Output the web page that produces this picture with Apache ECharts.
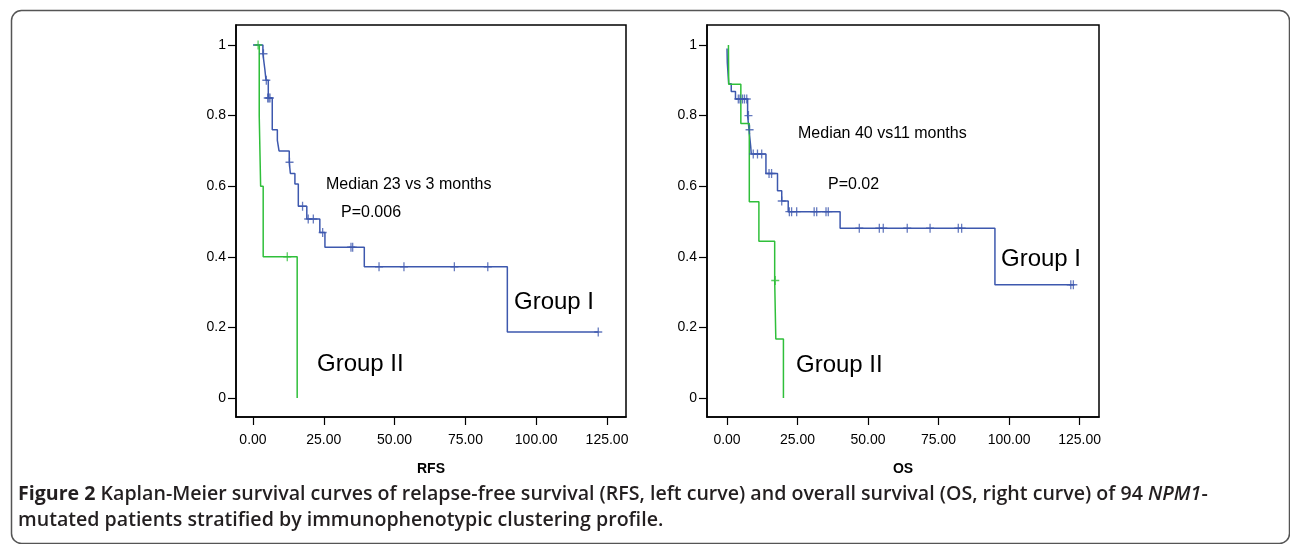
<!DOCTYPE html>
<html>
<head>
<meta charset="utf-8">
<script src="https://cdn.jsdelivr.net/npm/echarts@6/dist/echarts.min.js"></script>
<style>
  html, body { margin: 0; padding: 0; background: #fff; }
  #km_chart { width: 1290px; height: 544px; }
</style>
</head>
<body>
<div id="km_chart"></div>
<script>
// tick values
const xTicks = [0, 25, 50, 75, 100, 125];
const yTicks = [0, 0.2, 0.4, 0.6, 0.8, 1];

// RFS, [months, survival] - value holds until next point
const rfsGroup1 = [[0, 1], [3.5, 0.975], [4.2, 0.93], [4.6, 0.90], [5.4, 0.85], [6.8, 0.76], [8.6, 0.73],
  [9.2, 0.70], [12.8, 0.668], [13.2, 0.636], [14.8, 0.606], [16.0, 0.543], [19.0, 0.507], [23.6, 0.469],
  [25.4, 0.427], [39.3, 0.372], [89.8, 0.187], [122, 0.187]];
const rfsGroup2 = [[0.8, 1], [2.2, 0.8], [2.7, 0.6], [3.6, 0.4], [15.6, 0]];
const rfsCensor1 = [[3.7, 0.975], [4.7, 0.90], [5.2, 0.85], [5.6, 0.85], [6.0, 0.85], [12.9, 0.668],
  [17.5, 0.543], [19.5, 0.507], [21.3, 0.507], [24.6, 0.469], [34.6, 0.427], [35.2, 0.427],
  [44.5, 0.372], [53.3, 0.372], [71.1, 0.372], [82.9, 0.372], [121.9, 0.187]];
const rfsCensor2 = [[1.8, 1], [12.1, 0.4]];

// OS
const osGroup1 = [[0, 0.99], [0.1, 0.95], [0.6, 0.89], [1.5, 0.868], [3.0, 0.847], [7.3, 0.80], [7.8, 0.76],
  [8.4, 0.712], [8.6, 0.691], [13.8, 0.636], [17.9, 0.587], [19.4, 0.558], [21.7, 0.528], [40.1, 0.481],
  [95.0, 0.321], [123, 0.321]];
const osGroup2 = [[0.5, 1], [0.6, 0.889], [4.9, 0.778], [7.9, 0.556], [11.3, 0.444], [16.9, 0.333],
  [17.3, 0.167], [20.0, 0]];
const osCensor1 = [[4.0, 0.847], [4.6, 0.847], [5.5, 0.847], [6.2, 0.847], [7.0, 0.847], [7.6, 0.80],
  [8.0, 0.76], [9.3, 0.691], [10.8, 0.691], [12.3, 0.691], [14.9, 0.636], [15.8, 0.636], [19.4, 0.558],
  [22.1, 0.528], [22.9, 0.528], [24.7, 0.528], [30.9, 0.528], [31.8, 0.528], [35.1, 0.528], [35.9, 0.528],
  [46.9, 0.481], [54.0, 0.481], [55.4, 0.481], [63.9, 0.481], [72.0, 0.481], [82.0, 0.481], [83.2, 0.481],
  [121.9, 0.321], [122.8, 0.321]];
const osCensor2 = [[17.1, 0.333]];

const blue = '#3d58ae';
const green = '#2fbf3a';
const plusPath = 'path://M4.2,0H5.8V4.2H10V5.8H5.8V10H4.2V5.8H0V4.2H4.2Z';
const font = 'Liberation Sans, Arial, sans-serif';

function kmLine(data, color, idx) {
  return {
    type: 'line', step: 'end', data: data, xAxisIndex: idx, yAxisIndex: idx,
    symbol: 'none', silent: true, z: 2,
    lineStyle: { color: color, width: 1.5 }
  };
}
function censor(data, color, idx) {
  return {
    type: 'scatter', data: data, xAxisIndex: idx, yAxisIndex: idx,
    symbol: plusPath, symbolSize: [8, 9], silent: true, z: 3,
    itemStyle: { color: color }
  };
}
function xAxisOf(idx, min, max, name) {
  return {
    type: 'value', gridIndex: idx, min: min, max: max,
    name: name, nameLocation: 'middle', nameGap: 45,
    nameTextStyle: { color: '#000', fontSize: 14, fontWeight: 'bold', fontFamily: font },
    axisLine: { onZero: false, lineStyle: { color: '#000', width: 1.5 } },
    axisTick: { customValues: xTicks, length: 8, lineStyle: { color: '#000', width: 1.2 } },
    axisLabel: { customValues: xTicks, margin: 16, color: '#000', fontSize: 14, fontFamily: font,
      formatter: v => v.toFixed(2) },
    splitLine: { show: false }
  };
}
function yAxisOf(idx) {
  return {
    type: 'value', gridIndex: idx, min: -0.0538, max: 1.0567,
    axisLine: { onZero: false, lineStyle: { color: '#000', width: 1.5 } },
    axisTick: { customValues: yTicks, length: 8, lineStyle: { color: '#000', width: 1.2 } },
    axisLabel: { customValues: yTicks, margin: 10, color: '#000', fontSize: 14, fontFamily: font,
      formatter: v => String(+v.toFixed(1)) },
    splitLine: { show: false }
  };
}
function note(text, left, cy, size) {
  return {
    type: 'text', left: left, top: cy - size * 0.6,
    style: { text: text, fill: '#000', font: size + 'px ' + font }
  };
}

const chart = echarts.init(document.getElementById('km_chart'));
chart.setOption({
  animation: false,
  backgroundColor: '#fff',
  grid: [
    { left: 236, top: 25, width: 390, height: 392, show: true, borderColor: '#000', borderWidth: 1.5 },
    { left: 707, top: 25, width: 392, height: 392, show: true, borderColor: '#000', borderWidth: 1.5 }
  ],
  xAxis: [xAxisOf(0, -6, 131.7, 'RFS'), xAxisOf(1, -7.1, 131.9, 'OS')],
  yAxis: [yAxisOf(0), yAxisOf(1)],
  graphic: [
    {
      type: 'rect', left: 9, top: 8, silent: true,
      shape: { width: 1278, height: 533, r: 10 },
      style: { fill: 'none', stroke: '#555', lineWidth: 1.5 }
    },
    note('Median 23 vs 3 months', 326, 186, 16),
    note('P=0.006', 341, 214, 16),
    note('Group I', 514, 305, 24),
    note('Group II', 317, 367, 24),
    note('Median 40 vs11 months', 798, 135, 16),
    note('P=0.02', 828, 186, 16),
    note('Group I', 1001, 262, 24),
    note('Group II', 796, 368, 24),
    {
      type: 'text', left: 18, top: 481,
      style: {
        text: '{b|Figure 2} Kaplan-Meier survival curves of relapse-free survival (RFS, left curve) and overall survival (OS, right curve) of 94 {i|NPM1}-\nmutated patients stratified by immunophenotypic clustering profile.',
        fill: '#231f20', font: '600 19.6px Open Sans, sans-serif', lineHeight: 26,
        rich: {
          b: { fontWeight: 'bold', fontSize: 19.6, fontFamily: 'Open Sans', fill: '#231f20' },
          i: { fontStyle: 'italic', fontWeight: 600, fontSize: 19.6, fontFamily: 'Open Sans', fill: '#231f20' }
        }
      }
    }
  ],
  series: [
    kmLine(rfsGroup2, green, 0),
    kmLine(rfsGroup1, blue, 0),
    censor(rfsCensor2, green, 0),
    censor(rfsCensor1, blue, 0),
    kmLine(osGroup1, blue, 1),
    kmLine(osGroup2, green, 1),
    censor(osCensor1, blue, 1),
    censor(osCensor2, green, 1)
  ]
});
</script>
</body>
</html>
